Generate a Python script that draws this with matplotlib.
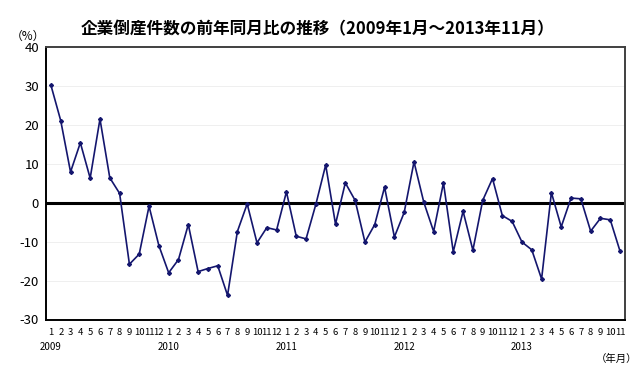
import matplotlib
matplotlib.use("Agg")
import matplotlib.pyplot as plt
import matplotlib.transforms as mtransforms

plt.rcParams['font.family'] = ['Noto Sans CJK JP', 'DejaVu Sans']

# 前年同月比（%） 2009年1月～2013年11月
years = [2009, 2010, 2011, 2012, 2013]
months = [m for y in years for m in range(1, 13)][:59]
values = [
    30.2, 21.1, 7.9, 15.4, 6.3, 21.5, 6.4, 2.4, -15.8, -13.2, -0.9, -11.0,
    -18.0, -14.6, -5.6, -17.7, -16.9, -16.2, -23.8, -7.4, -0.3, -10.3, -6.4, -7.0,
    2.8, -8.6, -9.3, -0.4, 9.7, -5.5, 5.1, 0.6, -10.1, -5.6, 4.0, -8.8,
    -2.5, 10.5, 0.1, -7.4, 5.1, -12.6, -2.2, -12.2, 0.6, 6.2, -3.3, -4.8,
    -10.1, -12.1, -19.6, 2.6, -6.2, 1.2, 1.0, -7.3, -4.0, -4.4, -12.5,
]
yticks = [-30, -20, -10, 0, 10, 20, 30, 40]

fig = plt.figure(figsize=(6.4, 3.71), dpi=100)
ax = fig.add_axes([46 / 640, 1 - 319.5 / 371, 579 / 640, 272.5 / 371])

x = list(range(len(values)))
for t in yticks:
    if t not in (0, -30, 40):
        ax.axhline(t, color='#ececec', lw=0.6, zorder=0)
ax.axhline(0, color='black', lw=2.2, zorder=1)
ax.plot(x, values, color='#14166e', lw=1.2, marker='D', markersize=2.0, zorder=3)

ax.set_xlim(-0.5, len(values) - 0.5)
ax.set_ylim(-30, 40)
ax.set_yticks(yticks)
ax.set_yticklabels([str(t) for t in yticks], fontsize=9.5)
ax.set_xticks(x)
ax.set_xticklabels([str(m) for m in months], fontsize=6.8)
ax.tick_params(axis='both', length=0, pad=5)
ax.tick_params(axis='x', pad=6)

for side in ['top', 'right']:
    ax.spines[side].set_color('#404040')
    ax.spines[side].set_linewidth(1.4)
for side in ['left', 'bottom']:
    ax.spines[side].set_color('black')
    ax.spines[side].set_linewidth(1.4)

trans = mtransforms.blended_transform_factory(ax.transData, fig.transFigure)
for i, y in enumerate(years):
    ax.text(i * 12, 1 - 347 / 371, str(y), transform=trans, ha='center', va='center', fontsize=7)

fig.text(617 / 640, 1 - 359 / 371, '（年月）', ha='center', va='center', fontsize=7.5)
fig.text(28 / 640, 1 - 36 / 371, '（%）', ha='center', va='center', fontsize=8.5)
fig.text(318 / 640, 1 - 29 / 371, '企業倒産件数の前年同月比の推移（2009年1月～2013年11月）',
         ha='center', va='center', fontsize=12, fontweight='bold')

fig.savefig('out.png', dpi=100)
